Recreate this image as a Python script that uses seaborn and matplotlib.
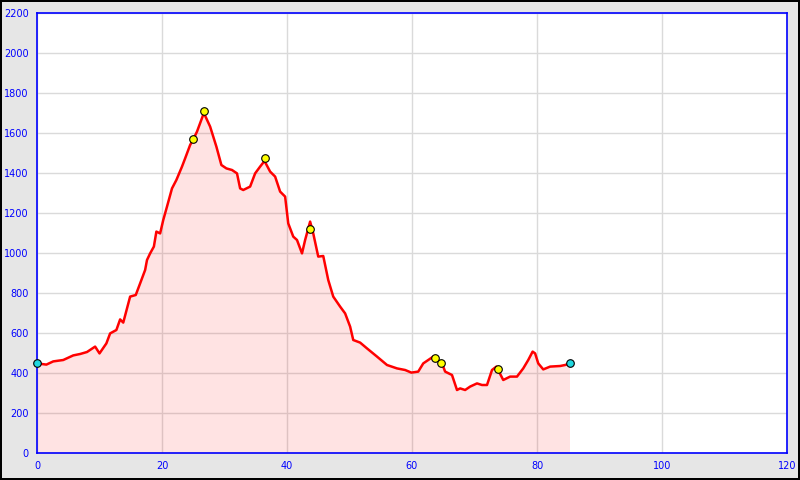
import matplotlib
matplotlib.use("Agg")
import matplotlib.pyplot as plt
import seaborn as sns
import pandas as pd

# distance (km) and elevation (m) read from the profile
dist = [0, 1.5, 2.6, 4.2, 5.8, 6.9, 8.0, 9.3, 10.0, 11.1,
        11.7, 12.7, 13.3, 13.8, 14.9, 15.8, 16.5, 17.3, 17.6, 18.1,
        18.7, 19.1, 19.7, 20.2, 20.8, 21.6, 22.3, 23.2, 23.7, 24.5,
        25.0, 25.6, 26.7, 27.7, 28.7, 29.5, 30.3, 31.2, 32.0, 32.5,
        33.0, 34.1, 34.9, 35.7, 36.4, 37.3, 38.1, 38.9, 39.7, 40.2,
        41.0, 41.6, 42.4, 42.9, 43.7, 44.2, 45.0, 45.8, 46.6, 47.4,
        48.5, 49.3, 50.1, 50.6, 51.7, 52.8, 54.4, 56.0, 57.6, 58.9,
        59.9, 61.0, 61.8, 63.4, 64.8, 65.3, 66.4, 67.2, 67.7, 68.5,
        69.3, 70.4, 71.2, 72.0, 72.8, 73.5, 74.6, 75.7, 76.8, 77.8,
        78.6, 79.3, 79.7, 80.2, 81.0, 82.1, 83.7, 84.5, 85.2]
elev = [448, 442, 458, 465, 488, 495, 505, 532, 498, 548,
        598, 615, 668, 652, 782, 790, 848, 915, 965, 998,
        1032, 1107, 1098, 1165, 1232, 1323, 1365, 1432, 1473, 1540,
        1568, 1607, 1700, 1632, 1532, 1440, 1423, 1415, 1398, 1323,
        1315, 1332, 1398, 1432, 1460, 1407, 1382, 1307, 1282, 1148,
        1082, 1065, 998, 1065, 1157, 1098, 982, 985, 865, 782,
        732, 698, 632, 565, 552, 523, 482, 440, 423, 415,
        402, 407, 448, 482, 448, 407, 390, 315, 323, 315,
        332, 348, 340, 340, 415, 432, 365, 382, 382, 423,
        465, 507, 498, 448, 418, 432, 435, 440, 448]

# waypoints
wp_x = [25.0, 26.7, 36.4, 43.7, 63.6, 64.6, 73.8]
wp_y = [1570, 1710, 1473, 1118, 475, 450, 420]
end_x = [0, 85.2]
end_y = [450, 450]

df = pd.DataFrame({"dist": dist, "elev": elev})

sns.set_style("white")
fig = plt.figure(figsize=(8, 4.8), dpi=100)
fig.patch.set_facecolor("#e6e6e6")
fig.patch.set_edgecolor("black")
fig.patch.set_linewidth(1.5)
ax = fig.add_axes([37 / 800, 27 / 480, 750 / 800, 440 / 480])
ax.set_facecolor("white")

ax.fill_between(df["dist"], df["elev"], 0, color="red", alpha=0.11, linewidth=0, zorder=2)
sns.lineplot(data=df, x="dist", y="elev", color="red", linewidth=1.8,
             sort=False, estimator=None, ax=ax, zorder=3)
sns.scatterplot(x=wp_x, y=wp_y, color="#ffff00", edgecolor="black", linewidth=0.8,
                s=30, ax=ax, zorder=4)
sns.scatterplot(x=end_x, y=end_y, color="#20d8e0", edgecolor="black", linewidth=0.8,
                s=30, ax=ax, zorder=4, clip_on=False)

ax.set_xlim(0, 120)
ax.set_ylim(0, 2200)
ax.set_xticks(range(0, 121, 20))
ax.set_yticks(range(0, 2201, 200))
ax.grid(True, color="#dadada", linewidth=1, zorder=1)
ax.set_axisbelow(True)
for s in ax.spines.values():
    s.set_color("#0000ff")
    s.set_linewidth(1.2)
ax.tick_params(axis="both", direction="in", length=5, color="#0000ff",
               labelcolor="#0000ff", labelsize=7, width=1.2, pad=6)
ax.set_xlabel("")
ax.set_ylabel("")

fig.savefig("out.png", dpi=100, facecolor=fig.get_facecolor(), edgecolor=fig.get_edgecolor())
